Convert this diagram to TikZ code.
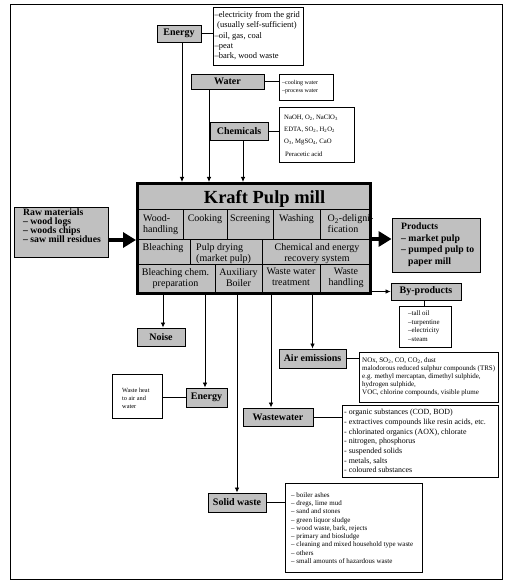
\documentclass[tikz,border=0pt]{standalone}
\usepackage{fontspec}
\setmainfont{Liberation Serif}
\usetikzlibrary{arrows.meta}
\definecolor{boxgray}{RGB}{192,192,192}
\begin{document}
\begin{tikzpicture}[x=1pt,y=-1pt,
  gbox/.style={draw, line width=0.9pt, fill=boxgray, inner sep=0pt, font=\fontsize{10}{12}\selectfont\bfseries},
  lbox/.style={draw, line width=0.8pt, fill=white, inner sep=0pt},
  ltext/.style={anchor=north west, inner sep=0pt, align=left},
  conn/.style={line width=0.8pt},
  arr/.style={line width=0.8pt, -{Latex[length=5pt,width=4.5pt]}},
  bigarr/.style={line width=4.5pt, -{Triangle[length=13pt,width=15pt]}},
  cell/.style={inner sep=0pt, anchor=north, align=center, font=\fontsize{10}{11.2}\selectfont},
  cellL/.style={inner sep=0pt, anchor=north west, align=left, font=\fontsize{10}{11.2}\selectfont},
]
\useasboundingbox[fill=white] (0,0) rectangle (528,585);
\draw[line width=0.8pt] (10,4) rectangle (502,579);

% ---- inputs
\node[gbox, minimum width=44pt, minimum height=17pt] (en1) at (179,33.5) {Energy};
\node[lbox, minimum width=90pt, minimum height=58pt] (enlist) at (258,36) {};
\node[ltext, font=\fontsize{8.5}{10.3}\selectfont] (enlistT) at (214.5,11.5)
  {–electricity from the grid\\\hspace*{2.5pt}(usually self-sufficient)\\–oil, gas, coal\\–peat\\–bark, wood waste};

\node[gbox, minimum width=73pt, minimum height=15pt] (water) at (227.5,81.5) {Water};
\node[lbox, minimum width=54pt, minimum height=26pt] (wlist) at (306,87) {};
\node[ltext, font=\fontsize{6}{8}\selectfont] (wlistT) at (282,80) {–cooling water\\–process water};

\node[gbox, minimum width=58pt, minimum height=18pt] (chem) at (239,131) {Chemicals};
\node[lbox, minimum width=75pt, minimum height=55pt] (clist) at (316.5,134.5) {};
\node[ltext, font=\fontsize{6.7}{12.3}\selectfont] (clistT) at (284,114.3)
  {NaOH, O\textsubscript{2}, NaClO\textsubscript{3}\\EDTA, SO\textsubscript{2}, H\textsubscript{2}O\textsubscript{2}\\O\textsubscript{3}, MgSO\textsubscript{4}, CaO\\\hspace*{1pt}Peracetic acid};

\node[gbox, minimum width=94pt, minimum height=50pt] (raw) at (61,232) {};
\node[ltext, font=\fontsize{9.7}{9}\selectfont\bfseries] (rawT) at (23,209)
  {Raw materials\\– wood logs\\– woods chips\\– saw mill residues};

% ---- Kraft pulp mill
\node[draw, line width=3pt, fill=boxgray, minimum width=233pt, minimum height=110pt, inner sep=0pt] (kraft) at (254,238.5) {};
\begin{scope}[line width=1pt]
\draw (137.5,209) -- (370.5,209);
\draw (137.5,239) -- (370.5,239);
\draw (137.5,264) -- (370.5,264);
\foreach \xx in {183,227,273,320} \draw (\xx,209) -- (\xx,239);
\foreach \xx in {190,262} \draw (\xx,239) -- (\xx,264);
\foreach \xx in {215,262,320} \draw (\xx,264) -- (\xx,293.5);
\end{scope}
\node[inner sep=0pt, font=\fontsize{18.5}{20}\selectfont\bfseries] (title) at (264.5,198.5) {Kraft Pulp mill};
\node[cellL] (c11) at (143,214.5) {Wood-\\handling};
\node[cell] (c12) at (205,214.5) {Cooking};
\node[cell] (c13) at (250,214.5) {Screening};
\node[cell] (c14) at (296.5,214.5) {Washing};
\node[cellL] (c15) at (327.5,214.5) {O\textsubscript{2}-deligni-\\fication};
\node[cell] (c21) at (163,243) {Bleaching};
\node[cellL] (c22) at (196,243) {Pulp drying\\(market pulp)};
\node[cell] (c23) at (317,243) {Chemical and energy\\recovery system};
\node[cell] (c31) at (175.5,268) {Bleaching chem.\\preparation};
\node[cell] (c32) at (238.5,268) {Auxiliary\\Boiler};
\node[cell] (c33) at (291,268) {Waste water\\treatment};
\node[cell] (c34) at (346,268) {Waste\\handling};

% ---- outputs
\node[gbox, minimum width=88pt, minimum height=54pt] (prod) at (436,245) {};
\node[ltext, font=\fontsize{9.7}{11.7}\selectfont\bfseries] (prodT) at (401,222.5)
  {Products\\– market pulp\\– pumped pulp to\\\hspace*{7pt}paper mill};

\node[gbox, minimum width=70pt, minimum height=17pt] (byp) at (426,291.5) {By-products};
\node[lbox, minimum width=52pt, minimum height=41pt] (bylist) at (425,326.5) {};
\node[ltext, font=\fontsize{6.9}{8.5}\selectfont] (bylistT) at (408,310.8)
  {–tall oil\\–turpentine\\–electricity\\–steam};

\node[gbox, minimum width=48pt, minimum height=18pt] (noise) at (161,337) {Noise};

\node[gbox, minimum width=41pt, minimum height=19pt] (en2) at (206.5,397.5) {Energy};
\node[lbox, minimum width=50pt, minimum height=44pt] (wheat) at (137,396) {};
\node[ltext, font=\fontsize{6.3}{8}\selectfont] (wheatT) at (122,387.5) {Waste heat\\to air and\\water};

\node[gbox, minimum width=67pt, minimum height=19pt] (air) at (312.5,358.5) {Air emissions};
\node[lbox, minimum width=139pt, minimum height=50pt] (alist) at (428.5,377) {};
\node[ltext, font=\fontsize{7}{8}\selectfont] (alistT) at (362,357.5)
  {NOx, SO\textsubscript{2}, CO, CO\textsubscript{2}, dust\\malodorous reduced sulphur compounds (TRS)\\e.g. methyl mercaptan, dimethyl sulphide,\\hydrogen sulphide,\\VOC, chlorine compounds, visible plume};

\node[gbox, minimum width=70pt, minimum height=18pt] (ww) at (278,417) {Wastewater};
\node[lbox, minimum width=156pt, minimum height=72pt] (wwlist) at (420,441) {};
\node[ltext, font=\fontsize{7.9}{9.7}\selectfont] (wwlistT) at (344,409)
  {- organic substances (COD, BOD)\\- extractives compounds like resin acids, etc.\\- chlorinated organics (AOX), chlorate\\- nitrogen, phosphorus\\- suspended solids\\- metals, salts\\- coloured substances};

\node[gbox, minimum width=58pt, minimum height=19pt] (sw) at (237,502.5) {Solid waste};
\node[lbox, minimum width=137pt, minimum height=89pt] (swlist) at (353.5,527.5) {};
\node[ltext, font=\fontsize{7}{8.25}\selectfont] (swlistT) at (291,492.2)
  {– boiler ashes\\– dregs, lime mud\\– sand and stones\\– green liquor sludge\\– wood waste, bark, rejects\\– primary and biosludge\\– cleaning and mixed household type waste\\– others\\– small amounts of hazardous waste};

% ---- connectors
\draw[conn] (en1.east) -- (en1.east -| enlist.west);
\draw[conn] (water.east) -- (water.east -| wlist.west);
\draw[conn] (chem.east) -- (chem.east -| clist.west);
\draw[arr] ([xshift=3pt]en1.south) -- ([xshift=3pt]en1.south |- kraft.north);
\draw[arr] ([xshift=-18.5pt]water.south) -- ([xshift=-18.5pt]water.south |- kraft.north);
\draw[arr] ([xshift=4pt]chem.south) -- ([xshift=4pt]chem.south |- kraft.north);

\draw[bigarr] (raw.east |- 0,240) -- (kraft.west |- 0,240);
\draw[bigarr] (kraft.east |- 0,239) -- (prod.west |- 0,239);
\draw[arr] (kraft.east |- byp.west) -- (byp.west);
\draw[conn] ([xshift=-2pt]byp.south) -- ([xshift=-2pt]byp.south |- bylist.north);

\draw[arr] ([xshift=2pt]noise.north |- kraft.south) -- ([xshift=2pt]noise.north);
\draw[arr] ([xshift=-1.5pt]en2.north |- kraft.south) -- ([xshift=-1.5pt]en2.north);
\draw[arr] (sw.north |- kraft.south) -- (sw.north);
\draw[arr] ([xshift=-7pt]ww.north |- kraft.south) -- ([xshift=-7pt]ww.north);
\draw[arr] (air.north |- kraft.south) -- (air.north);

\draw[conn] (en2.west) -- (en2.west -| wheat.east);
\draw[conn] (air.east) -- (air.east -| alist.west);
\draw[conn] (ww.east) -- (ww.east -| wwlist.west);
\draw[conn] (sw.east) -- (sw.east -| swlist.west);
\end{tikzpicture}
\end{document}
